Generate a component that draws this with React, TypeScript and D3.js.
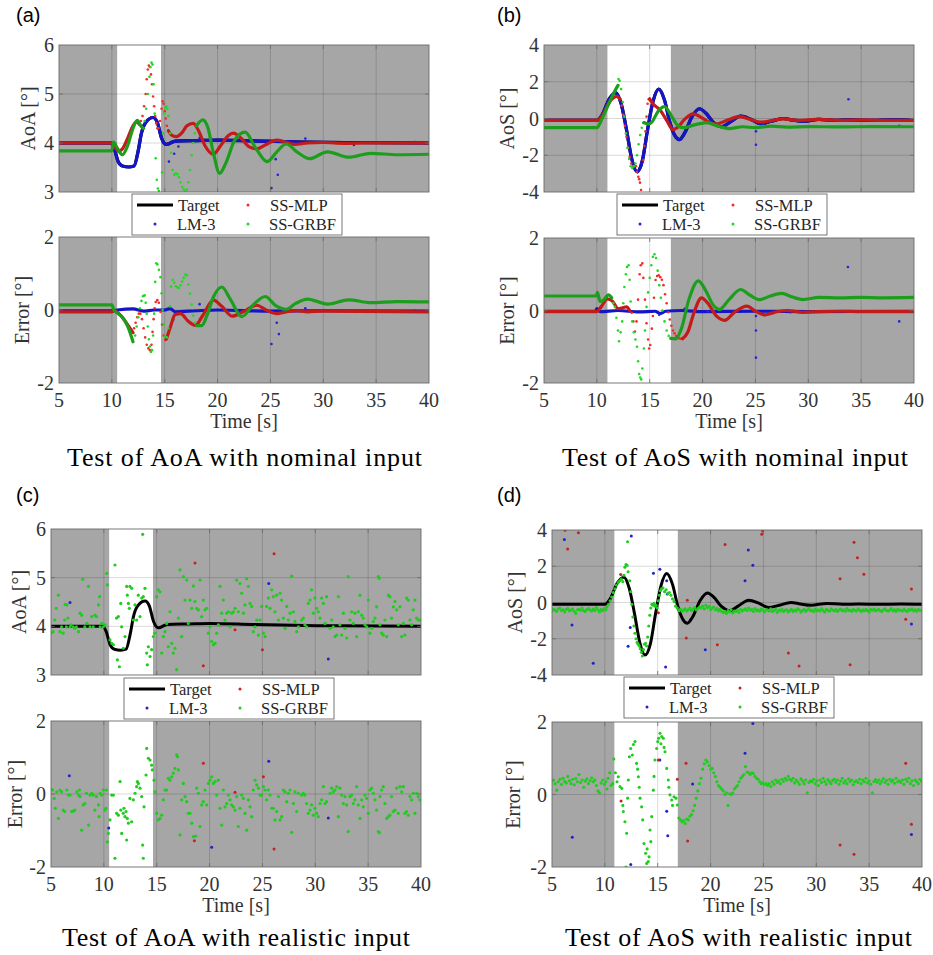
import React from "react";
import * as d3 from "d3";

type P = [number, number];

// ---------- axis / label data ----------
const TIME_TICKS = [5, 10, 15, 20, 25, 30, 35, 40];
const AOA_TICKS = [3, 4, 5, 6];
const AOS_TICKS = [-4, -2, 0, 2, 4];
const ERR_TICKS = [-2, 0, 2];
const LEGEND_LABELS = ["Target", "LM-3", "SS-MLP", "SS-GRBF"];
const CAPTIONS = [
  "Test of AoA with nominal input",
  "Test of AoS with nominal input",
  "Test of AoA with realistic input",
  "Test of AoS with realistic input",
];
const PANEL_TAGS = ["(a)", "(b)", "(c)", "(d)"];
const WIN_NOM_AOA: P = [10.5, 14.65];
const WIN_NOM_AOS: P = [11.0, 17.0];
const WIN_REAL_AOA: P = [10.5, 14.65];
const WIN_REAL_AOS: P = [10.9, 16.9];

// ---------- targets ----------
const AOA_TARGET: P[] = [[5,4.0],[9.9,4.0],[10.2,3.9],[10.6,3.62],[11.0,3.53],[11.6,3.51],[12.1,3.53],[12.5,3.85],[12.8,4.2],[13.2,4.42],[13.9,4.52],[14.3,4.42],[14.7,4.1],[15.15,3.97],[16.0,4.04],[18,4.05],[20,4.06],[24,4.04],[28,4.02],[32,4.01],[40,4.0]];
const AOS_TARGET: P[] = [[5,-0.1],[10,-0.1],[10.5,0.2],[11.2,1.1],[11.8,1.4],[12.3,0.8],[12.8,-0.6],[13.3,-2.2],[13.8,-2.9],[14.3,-2.3],[14.8,-0.6],[15.3,0.9],[15.85,1.6],[16.4,1.0],[16.9,-0.2],[17.4,-0.95],[17.8,-1.15],[18.3,-0.8],[19.0,0.1],[19.7,0.53],[20.3,0.3],[21.0,-0.2],[21.8,-0.45],[22.6,-0.2],[23.6,0.13],[24.6,-0.05],[25.5,-0.28],[26.5,-0.15],[27.6,0.0],[28.5,-0.08],[29.5,-0.15],[31,-0.05],[32.5,-0.1],[34,-0.08],[36,-0.1],[38,-0.08],[40,-0.1]];

// ---------- (a) nominal AoA ----------
const NA_LM3_DOTS: P[] = [[15.4,3.62],[15.9,3.78],[16.3,3.93],[18.3,4.1],[25.1,3.08],[25.5,3.67],[25.7,3.35],[28.3,4.09],[32.9,3.96],[38.7,4.02]];
const NA_MLP_LINE1: P[] = [[5,4.0],[10,4.0],[10.3,3.92],[10.6,3.83],[11.0,3.88],[11.5,4.1],[12.0,4.35],[12.35,4.43],[12.6,4.38]];
const NA_MLP_DOTS: P[] = [[12.75,4.45],[12.9,4.55],[13.05,4.75],[13.2,5.0],[13.3,5.3],[13.4,5.5],[13.5,5.58],[13.6,5.55],[13.7,5.4],[13.8,5.2],[13.9,4.95],[14.0,4.75],[14.1,4.55],[14.2,4.4],[14.3,4.3],[14.4,4.3],[14.55,4.45],[14.7,4.7],[14.8,4.85],[14.9,4.8],[15.0,4.65],[15.1,4.5],[15.2,4.35]];
const NA_MLP_LINE2: P[] = [[15.35,4.25],[15.6,4.17],[16.1,4.13],[16.6,4.2],[17.1,4.35],[17.7,4.4],[18.2,4.25],[18.8,3.95],[19.6,3.77],[20.3,3.95],[21.0,4.15],[21.5,4.2],[22.2,4.1],[23.0,3.92],[23.7,3.88],[24.5,3.96],[25.6,4.06],[26.4,4.02],[27.3,3.97],[28.5,4.0],[30,4.01],[32,3.99],[34,4.0],[40,4.0]];
const NA_GRBF_LINE1: P[] = [[5,3.84],[10,3.84],[10.15,4.02],[10.5,3.9],[11.0,3.76],[11.5,3.95],[12.0,4.3],[12.4,4.46],[12.8,4.33],[13.0,4.3]];
const NA_GRBF_DOTS: P[] = [[13.1,4.45],[13.25,4.7],[13.4,5.0],[13.55,5.35],[13.65,5.55],[13.75,5.64],[13.85,5.6],[13.95,5.2],[14.05,4.6],[14.15,3.69],[14.25,3.25],[14.35,3.07],[14.45,3.02],[14.75,3.4],[14.85,4.2],[14.95,4.6],[15.05,4.72],[15.15,4.75],[15.25,4.7],[15.35,4.55],[15.5,4.2],[15.6,3.8],[15.75,3.45],[15.9,3.35],[16.05,3.38],[16.2,3.36],[16.35,3.3],[16.5,3.2],[16.65,3.1],[16.8,3.05],[16.95,3.01],[17.1,3.05],[17.25,3.2],[17.4,3.45],[17.55,3.75],[17.7,4.0],[17.85,4.2]];
const NA_GRBF_LINE2: P[] = [[18.0,4.35],[18.6,4.47],[19.1,4.3],[19.6,3.8],[20.2,3.38],[20.8,3.6],[21.6,4.05],[22.6,4.22],[23.6,3.9],[24.7,3.62],[25.6,3.82],[26.5,3.98],[27.5,3.82],[28.7,3.68],[30.4,3.82],[32.4,3.71],[34.5,3.79],[37,3.76],[40,3.77]];
const NA_LM3_ERR_LINE: P[] = [[5,-0.02],[10,-0.02],[10.5,0.0],[12,0.03],[13,-0.03],[14,0.0],[15,0.0],[15.5,0.04],[16,-0.05],[18,-0.02],[20,0.0],[25,-0.03],[30,-0.02],[40,-0.03]];
const NA_LM3_ERR_DOTS: P[] = [[15.8,-0.27],[18.3,0.16],[25.1,-0.93],[25.6,-0.35],[25.8,-0.66],[28.3,0.05],[33.0,-0.05],[38.7,-0.02]];
const NA_MLP_ERR_LINE1: P[] = [[5,-0.05],[10,-0.05],[10.2,0.0],[10.6,-0.08],[11.2,-0.28],[11.6,-0.45],[12.0,-0.62]];
const NA_MLP_ERR_DOTS: P[] = [[12.1,-0.5],[12.25,-0.35],[12.4,-0.2],[12.55,-0.1],[12.7,-0.1],[12.85,-0.25],[13.0,-0.5],[13.15,-0.75],[13.3,-0.95],[13.45,-1.05],[13.6,-1.1],[13.75,-0.95],[13.85,-0.6],[13.95,-0.25],[14.05,0.05],[14.15,0.22],[14.3,0.27],[14.45,0.2],[14.6,-0.05],[14.75,-0.4],[14.9,-0.7],[15.05,-0.82]];
const NA_MLP_ERR_LINE2: P[] = [[15.15,-0.8],[15.5,-0.5],[16.0,-0.12],[16.5,-0.1],[17.2,-0.3],[17.9,-0.42],[18.6,-0.15],[19.6,0.27],[20.4,0.1],[21.4,-0.17],[22.4,-0.05],[23.7,0.13],[24.6,0.0],[25.6,-0.1],[26.5,-0.05],[27.5,-0.02],[28.5,-0.05],[30,-0.03],[40,-0.05]];
const NA_GRBF_ERR_LINE1: P[] = [[5,0.14],[10,0.14],[10.2,0.0],[10.6,-0.1],[11.0,-0.2],[11.5,-0.45],[12.0,-0.87]];
const NA_GRBF_ERR_DOTS: P[] = [[12.2,-0.7],[12.35,-0.45],[12.5,-0.2],[12.65,0.05],[12.8,0.25],[12.95,0.38],[13.1,0.4],[13.2,0.2],[13.3,-0.1],[13.4,-0.45],[13.5,-0.8],[13.6,-1.0],[13.7,-1.15],[13.8,-1.1],[13.9,-0.7],[14.0,-0.1],[14.1,0.77],[14.2,1.28],[14.3,1.25],[14.45,1.1],[14.6,0.9],[14.7,0.46],[14.8,0.0],[14.9,-0.4],[15.05,-0.72],[15.2,-0.75],[15.35,-0.5],[15.5,0.1],[15.6,0.64],[15.75,0.82],[15.9,0.75],[16.05,0.65],[16.2,0.62],[16.35,0.6],[16.5,0.68],[16.65,0.78],[16.8,0.88],[16.95,0.97],[17.1,0.95],[17.25,0.7],[17.4,0.45],[17.55,0.15],[17.7,-0.15],[17.85,-0.35]];
const NA_GRBF_ERR_LINE2: P[] = [[18.0,-0.43],[18.5,-0.43],[19.0,-0.15],[19.6,0.35],[20.4,0.63],[21.2,0.3],[22.3,-0.18],[23.4,0.15],[24.5,0.37],[25.5,0.12],[26.5,0.02],[27.4,0.18],[28.5,0.3],[30.4,0.16],[32.4,0.28],[34.5,0.2],[37,0.23],[40,0.22]];

// ---------- (b) nominal AoS ----------
const NS_LM3_DOTS: P[] = [[25.05,-0.7],[25.05,-1.43],[25.8,-0.3],[33.8,1.05],[38.6,-0.4]];
const NS_MLP_LINE1: P[] = [[5,-0.1],[10,-0.1],[10.5,0.15],[11.2,0.9],[11.9,1.2],[12.2,1.05]];
const NS_MLP_DOTS: P[] = [[12.35,0.7],[12.5,0.2],[12.65,-0.4],[12.8,-1.0],[12.95,-1.6],[13.1,-2.1],[13.25,-2.45],[13.4,-2.6],[13.55,-2.6],[13.7,-2.6],[13.8,-2.9],[13.92,-3.17],[14.0,-3.3],[14.08,-3.49],[14.18,-3.89],[14.4,-2.26],[14.5,-1.5],[14.6,-0.7],[14.7,0.1],[14.8,0.8],[14.9,1.05],[15.0,1.1]];
const NS_MLP_LINE2: P[] = [[15.0,1.05],[15.4,0.75],[16.0,0.45],[16.6,-0.1],[17.2,-0.6],[17.6,-0.5],[18.3,-0.05],[19.1,0.25],[19.9,0.05],[20.6,-0.2],[21.3,-0.3],[22.3,-0.1],[23.5,0.1],[24.5,-0.05],[25.5,-0.2],[26.5,-0.12],[27.6,-0.02],[29,-0.1],[31,-0.05],[33,-0.1],[35,-0.08],[37,-0.1],[40,-0.1]];
const NS_GRBF_LINE1: P[] = [[5,-0.5],[10,-0.5],[10.5,0.0],[11.2,0.9],[11.8,1.6],[12.0,1.8]];
const NS_GRBF_DOTS: P[] = [[12.05,2.15],[12.15,2.05],[12.3,1.6],[12.45,0.9],[12.6,0.1],[12.75,-0.8],[12.9,-1.6],[13.05,-2.2],[13.2,-2.6],[13.35,-2.7],[13.5,-2.6],[13.65,-2.45],[13.8,-2.0],[13.95,-1.4],[14.1,-0.9],[14.25,-0.5],[14.4,-0.25]];
const NS_GRBF_LINE2: P[] = [[14.45,-0.22],[14.9,-0.3],[15.2,-0.2],[15.8,0.4],[16.4,0.65],[17.0,0.2],[17.6,-0.35],[18.2,-0.5],[19.2,-0.35],[20.4,-0.22],[21.4,-0.4],[22.5,-0.55],[23.8,-0.45],[25,-0.5],[26.5,-0.42],[28,-0.47],[30,-0.44],[33,-0.46],[36,-0.44],[40,-0.45]];
const NS_LM3_ERR_LINE: P[] = [[5,-0.02],[9.9,-0.02],[10.0,0.05],[10.3,-0.03],[12,0.0],[14,-0.04],[15.5,-0.02],[16,-0.08],[16.5,-0.02],[18,0.0],[20,-0.03],[25,-0.02],[30,-0.03],[40,-0.02]];
const NS_LM3_ERR_DOTS: P[] = [[15.9,-0.12],[18.3,0.05],[20.5,-0.03],[25.05,-0.15],[25.05,-0.55],[25.05,-1.3],[25.8,-0.12],[28.3,-0.05],[33.75,1.2],[38.6,-0.3]];
const NS_MLP_ERR_LINE1: P[] = [[5,-0.03],[10,-0.03],[10.4,0.1],[11.0,0.32],[11.5,0.25],[12.0,0.05],[12.5,0.08],[12.8,0.1],[13.1,0.0]];
const NS_MLP_ERR_DOTS: P[] = [[13.3,-0.06],[13.45,-0.3],[13.6,-0.58],[13.75,-0.3],[13.9,0.3],[14.05,1.0],[14.15,1.25],[14.3,1.3],[14.4,0.9],[14.55,0.3],[14.7,-0.35],[14.85,-0.8],[14.95,-1.05],[15.05,-0.95],[15.2,-0.5],[15.3,-0.15],[15.4,0.35],[15.55,0.84],[15.7,0.95],[15.85,0.97],[16.0,0.92],[16.15,0.85],[16.3,0.7],[16.45,0.45],[16.6,0.2],[16.75,-0.05],[16.9,-0.25],[17.05,-0.42],[17.2,-0.55],[17.35,-0.63],[17.5,-0.7],[17.65,-0.74],[17.8,-0.77],[17.95,-0.78],[18.1,-0.78]];
const NS_MLP_ERR_LINE2: P[] = [[18.1,-0.78],[18.6,-0.6],[19.2,-0.05],[19.9,0.35],[20.5,0.2],[21.3,-0.15],[22.1,-0.27],[23.0,-0.05],[24.2,0.12],[25.0,-0.02],[25.9,-0.12],[26.8,-0.05],[28.0,0.0],[29.5,-0.05],[31,-0.03],[33,-0.02],[35,-0.03],[40,-0.03]];
const NS_GRBF_ERR_LINE1: P[] = [[5,0.4],[9.95,0.4],[10.05,0.5],[10.3,0.25],[10.6,0.28],[11.1,0.43],[11.4,0.35]];
const NS_GRBF_ERR_DOTS: P[] = [[11.55,0.2],[11.7,0.1],[11.85,-0.2],[12.0,-0.55],[12.1,-0.85],[12.25,-0.6],[12.4,-0.3],[12.5,0.2],[12.6,0.65],[12.75,1.0],[12.85,1.2],[13.0,1.25],[13.1,0.85],[13.2,0.25],[13.35,-0.3],[13.5,-0.6],[13.65,-0.8],[13.8,-1.0],[13.9,-1.4],[14.0,-1.75],[14.1,-1.85],[14.2,-1.9],[14.3,-1.6],[14.45,-1.05],[14.55,-0.55],[14.7,0.1],[14.85,0.5],[15.0,0.9],[15.15,1.25],[15.3,1.48],[15.45,1.55],[15.6,1.45],[15.75,1.1],[15.9,0.7],[16.05,0.35],[16.2,0.0],[16.4,-0.3],[16.6,-0.55],[16.8,-0.7],[17.0,-0.77]];
const NS_GRBF_ERR_LINE2: P[] = [[17.0,-0.77],[17.46,-0.78],[18.0,-0.5],[18.7,0.3],[19.6,0.82],[20.3,0.55],[21.0,0.15],[21.6,0.03],[22.5,0.3],[23.6,0.58],[24.5,0.42],[25.4,0.3],[26.4,0.4],[27.5,0.47],[28.5,0.37],[29.5,0.3],[31,0.36],[33,0.35],[35,0.36],[37,0.35],[40,0.36]];

// ---------- (c) realistic AoA ----------
const RA_GRBF_DOTS: P[] = [[5.0,3.86],[5.2,3.89],[5.35,4.13],[5.5,4.37],[5.7,4.64],[5.85,3.89],[6.0,3.99],[6.15,3.86],[6.3,4.13],[6.35,4.45],[6.45,3.99],[6.5,4.44],[6.6,4.17],[6.8,3.99],[6.9,4.03],[7.1,3.99],[7.25,3.96],[7.4,3.99],[7.6,3.89],[7.75,4.27],[7.9,4.23],[8.0,4.97],[8.2,3.99],[8.4,4.06],[8.55,4.82],[8.7,3.99],[8.85,4.2],[9.0,3.99],[9.15,4.23],[9.3,4.2],[9.5,4.44],[9.6,4.61],[9.65,3.99],[9.8,4.06],[9.95,3.99],[10.1,4.03],
[10.27,5.09],[10.33,4.85],[10.58,3.72],[10.74,3.65],[10.9,3.62],[11.05,5.26],[11.2,4.17],[11.28,3.31],[11.37,4.2],[11.47,3.17],[11.6,4.47],[11.68,3.99],[11.84,3.55],[12.0,3.79],[12.16,4.82],[12.22,4.64],[12.32,4.47],[12.41,4.37],[12.47,4.82],[12.63,4.78],[12.79,4.13],[12.95,4.44],[13.1,4.13],[13.26,4.64],[13.42,4.2],[13.58,4.58],[13.67,5.89],[13.73,4.61],[13.89,4.78],[14.05,3.45],[14.11,3.21],[14.21,3.58],[14.37,3.38],[14.52,3.52],
[14.68,3.79],[14.84,3.86],[15.0,4.61],[15.15,4.75],[15.31,4.71],[15.47,3.45],[15.63,3.79],[15.78,3.89],[15.94,4.06],[16.1,3.58],[16.26,4.3],[16.42,3.65],[16.57,3.45],[16.73,3.55],[16.89,3.11],[17.05,4.17],[17.2,5.16],[17.36,3.79],[17.52,5.02],[17.68,4.54],[17.84,4.95],[17.99,4.06],[18.15,4.54],[18.31,4.37],[18.47,4.83],[18.62,4.51],[18.78,4.37],[18.94,4.34],[19.1,4.95],[19.25,4.2],[19.41,4.54],[19.57,4.34],[19.73,4.37],[19.88,3.86],[20.04,3.99],[20.2,3.69],[20.36,3.62],[20.52,3.65],[20.67,3.86],[20.83,4.03],[20.99,4.82],[21.15,4.27],[21.3,4.54],[21.46,4.13],[21.62,4.27],[21.78,4.3],[21.93,3.99],[22.09,4.27],[22.25,4.3],[22.41,4.37],[22.56,4.95],[22.72,4.3],[22.88,4.88],[23.04,4.68],[23.2,4.27],[23.35,4.44],[23.51,4.98],[23.67,4.82],[23.83,4.47],[23.98,4.41],[24.14,3.89],[24.3,3.99],[24.46,4.13],[24.62,3.82],[24.77,4.13],[24.93,4.41],[25.09,3.86],[25.25,3.79],[25.4,4.41],[25.56,4.58],[25.72,4.37],[25.88,4.75],[26.03,4.61],[26.19,4.3],[26.35,4.64],[26.51,4.13],[26.67,4.68],[26.82,4.54],[26.98,4.17],[27.14,3.96],[27.3,4.41],[27.45,4.13],[27.61,4.27],[27.77,5.03],[27.93,4.3],[28.08,4.1],[28.24,3.89],[28.4,3.99],
[28.71,4.13],[28.87,4.17],[29.02,4.03],[29.18,3.99],[29.34,4.47],[29.5,4.54],[29.65,4.75],[29.81,4.27],[29.97,4.58],[30.13,4.37],[30.28,4.3],[30.44,4.17],[30.6,4.58],[30.76,4.47],[30.92,4.06],[31.07,4.61],[31.39,3.96],[31.55,4.13],[31.7,3.99],[31.86,3.79],[32.02,3.82],[32.18,4.61],[32.33,4.03],[32.49,3.82],[32.65,4.27],[32.81,3.96],[32.97,3.76],[33.12,5.02],[33.28,4.13],[33.44,4.3],[33.6,4.06],[33.75,4.27],[33.91,3.79],[34.07,4.3],[34.23,4.64],[34.39,4.23],[34.54,4.17],[34.7,4.03],[34.86,3.99],[35.02,4.54],[35.17,3.86],[35.33,3.96],[35.49,4.1],[35.65,4.17],[35.8,4.4],[35.96,5.02],[36.06,4.99],[36.12,4.03],[36.28,3.86],[36.43,3.82],[36.59,4.13],[36.75,3.79],[36.91,4.64],[37.06,4.61],[37.22,4.17],[37.38,4.4],[37.54,4.51],[37.7,4.34],[37.85,4.03],[38.01,4.4],[38.17,3.79],[38.33,4.06],[38.48,3.82],[38.64,4.58],[38.8,4.54],[38.96,4.13],[39.11,4.03],[39.27,4.34],[39.43,4.54],[39.59,4.17],[39.74,4.13],[39.9,4.13]];
const RA_MLP_DOTS: P[] = [[18.62,5.3],[19.41,3.19],[22.41,3.93],[25.0,3.52],[26.1,5.49]];
const RA_LM3_DOTS: P[] = [[6.8,4.49],[25.6,4.88],[31.23,3.33]];
const RA_GRBF_ERR_DOTS: P[] = [[5.0,0.13],[5.15,0.11],[5.3,-0.12],[5.4,-0.39],[5.55,0.06],[5.7,-0.67],[5.85,0.11],[6.0,0.06],[6.15,-0.44],[6.3,-0.48],[6.5,0.11],[6.65,-0.03],[6.8,-0.03],[6.95,-0.48],[7.1,-0.47],[7.25,-0.44],[7.45,0.06],[7.6,-0.03],[7.7,0.11],[7.75,-0.07],[7.9,-0.99],[8.05,-0.3],[8.2,-0.26],[8.35,0.02],[8.55,-0.85],[8.7,-0.03],[8.85,0.02],[9.0,-0.03],[9.15,-0.44],[9.3,-0.07],[9.5,-0.3],[9.55,-0.62],[9.65,0.02],[9.8,-0.03],[9.95,0.11],[10.1,-0.44],[10.2,-0.39],[10.25,0.11],
[10.33,-1.31],[10.42,-1.08],[10.58,-0.71],[10.74,-0.03],[10.9,-0.03],[11.05,-1.76],[11.21,-0.53],[11.37,-0.58],[11.53,0.34],[11.6,-0.44],[11.69,-1.08],[11.84,-0.53],[11.9,-0.39],[12.0,-0.62],[12.1,-0.48],[12.16,-1.26],[12.22,-0.67],[12.32,-0.8],[12.47,-0.12],[12.63,-0.76],[12.79,-0.16],[12.95,0.02],[13.1,0.2],[13.17,0.34],[13.26,0.29],[13.42,0.16],[13.58,-0.07],[13.67,-1.4],[13.73,-1.76],[13.8,-0.35],[13.99,0.52],[14.05,1.25],[14.21,0.98],[14.37,0.93],[14.52,0.79],[14.59,0.66],
[14.75,0.38],[14.84,0.06],[15.0,-0.53],[15.15,-0.71],[15.31,-0.67],[15.47,-0.58],[15.63,-0.16],[15.78,0.11],[15.94,0.11],[16.1,0.43],[16.26,0.38],[16.42,0.47],[16.57,0.57],[16.73,0.7],[16.89,1.07],[16.98,1.02],[17.05,0.66],[17.2,-1.12],[17.36,-0.16],[17.52,0.29],[17.68,-0.07],[17.84,-0.21],[17.99,-0.53],[18.15,-0.53],[18.31,-0.8],[18.47,-1.17],[18.7,-1.15],[18.78,0.16],[18.94,0.02],[19.1,-0.89],[19.25,-0.3],[19.41,-0.21],[19.57,0.11],[19.73,-0.3],[19.88,0.29],[20.04,0.38],[20.2,0.47],[20.36,0.29],[20.52,0.34],[20.67,-0.03],[20.83,0.38],[20.99,-0.39],[21.15,-0.85],[21.3,0.11],[21.46,-0.35],[21.62,-0.26],[21.78,-0.03],[21.93,-0.16],[22.09,-0.3],[22.25,-0.35],[22.41,-0.44],[22.56,-0.07],[22.72,-0.89],[22.88,-0.39],[23.04,-0.03],[23.2,-0.12],[23.35,-0.53],[23.51,-0.99],[23.67,-0.16],[23.83,-0.35],[23.98,-0.62],[24.14,0.11],[24.3,0.38],[24.46,0.25],[24.62,0.16],[24.77,-0.03],[24.93,-0.03],[25.09,0.2],[25.25,0.11],[25.4,-0.16],[25.56,0.11],[25.72,-0.03],[25.88,-0.39],[26.03,-0.39],[26.19,-0.71],[26.35,-0.48],[26.51,-0.07],[26.67,-0.71],[26.82,-0.62],[26.98,0.11],[27.14,0.06],[27.3,-0.21],[27.45,0.02],[27.61,0.11],[27.77,-1.05],[27.93,-0.26],[28.08,0.06],[28.24,-0.48],[28.4,0.02],
[28.71,-0.03],[28.87,0.02],[29.02,-0.03],[29.18,-0.26],[29.34,-0.53],[29.5,-0.44],[29.65,-0.3],[29.81,-0.58],[29.97,-0.39],[30.13,-0.53],[30.28,-0.62],[30.44,-0.26],[30.6,-0.16],[30.76,0.2],[30.92,-0.26],[31.07,-0.21],[31.39,0.02],[31.55,0.16],[31.7,0.06],[31.86,0.11],[32.02,0.2],[32.18,-0.62],[32.33,0.16],[32.49,-0.03],[32.65,-0.26],[32.81,-0.07],[32.97,-0.3],[33.12,-1.03],[33.28,-0.07],[33.44,-0.03],[33.6,-0.26],[33.75,-0.16],[33.91,0.2],[34.07,-0.3],[34.23,-0.67],[34.39,-0.16],[34.54,-0.35],[34.7,-0.03],[34.86,-0.12],[35.02,-0.53],[35.17,0.11],[35.33,0.16],[35.49,0.02],[35.65,-0.16],[35.8,-0.44],[35.96,-1.03],[36.06,-1.06],[36.12,-0.07],[36.28,0.11],[36.43,0.2],[36.59,-0.26],[36.75,-0.67],[36.91,-0.62],[37.06,-0.58],[37.22,-0.07],[37.38,-0.48],[37.54,-0.44],[37.7,0.16],[37.85,-0.53],[38.01,0.2],[38.17,0.06],[38.33,0.2],[38.48,-0.53],[38.64,-0.48],[38.8,-0.58],[38.96,-0.07],[39.11,-0.16],[39.27,0.02],[39.43,-0.53],[39.59,0.02],[39.74,-0.07],[39.9,-0.16]];
const RA_MLP_ERR_DOTS: P[] = [[18.56,-1.28],[19.41,0.84],[22.41,0.05],[25.09,0.47],[26.1,-1.51]];
const RA_LM3_ERR_DOTS: P[] = [[6.73,0.5],[10.46,-0.93],[20.2,-1.46],[25.6,0.9],[31.23,-0.66]];

// ---------- (d) realistic AoS ----------
const RS_BAND_START_A = 5.0;
const RS_BAND_START_B = 17.0;
const RS_BAND_STEP = 0.15;
const RS_GRBF_BAND_A = [-0.45,-0.38,-0.42,-0.5,-0.35,-0.3,-0.44,-0.4,-0.52,-0.38,-0.33,-0.46,-0.41,-0.36,-0.48,-0.6,-0.4,-0.37,-0.43,-0.3,-0.45,-0.5,-0.39,-0.34,-0.42,-0.47,-0.36,-0.44,-0.28,-0.4,-0.52,-0.38,-0.45,-0.33,-0.4];
const RS_GRBF_TRANS: P[] = [[10.2,-0.25],[10.35,-0.1],[10.5,0.1],[10.65,0.3],[10.8,0.55],[10.95,0.75],[11.1,0.95],[11.25,1.1],[11.4,1.2],[11.55,1.3],[11.7,1.15],[11.8,1.5],[11.9,1.95],[12.0,2.1],[12.1,2.05],[12.15,3.35],[12.2,1.7],[12.35,1.2],[12.45,0.6],[12.55,-0.1],[12.65,-0.8],[12.75,-1.3],[12.85,-1.7],[12.95,-2.0],[13.05,-2.2],[13.15,-2.3],[13.25,-2.4],[13.35,-2.55],[13.45,-2.75],[13.55,-2.95],[13.65,-2.6],[13.75,-2.3],[13.85,-2.25],[13.95,-2.4],[14.05,-1.9],[14.15,-1.3],[14.25,-0.7],[14.35,-0.3],[14.45,-0.1],[14.55,-0.15],[14.65,-0.05],[14.75,-0.2],[14.85,-0.15],[14.95,-0.3],[15.05,0.1],[15.15,0.4],[15.25,0.65],[15.35,0.75],[15.5,0.8],[15.65,0.6],[15.8,0.7],[15.95,0.5],[16.1,0.55],[16.25,0.4],[16.4,0.2],[16.55,0.05],[16.7,-0.2],[16.85,-0.3]];
const RS_GRBF_BAND_B = [
  -0.45,-0.38,-0.5,-0.42,-0.35,-0.47,-0.4,-0.3,-0.44,-0.36,-0.28,-0.41,-0.33,-0.25,
  -0.3,-0.2,-0.35,-0.15,-0.28,-0.22,-0.38,-0.3,-0.25,-0.4,-0.33,-0.45,-0.38,-0.5,
  -0.55,-0.48,-0.6,-0.45,-0.52,-0.4,-0.58,-0.47,-0.5,-0.42,-0.55,-0.38,-0.46,-0.4,
  -0.35,-0.44,-0.3,-0.42,-0.38,-0.5,-0.33,-0.45,-0.4,-0.48,-0.36,-0.43,-0.52,-0.39,
  -0.42,-0.47,-0.35,-0.5,-0.44,-0.38,-0.55,-0.41,-0.46,-0.36,-0.49,-0.43,-0.4,-0.52,
  -0.45,-0.38,-0.5,-0.42,-0.47,-0.35,-0.4,-0.53,-0.44,-0.37,-0.48,-0.41,-0.3,-0.45,
  -0.42,-0.5,-0.36,-0.45,-0.4,-0.47,-0.33,-0.44,-0.52,-0.38,-0.43,-0.48,-0.35,-0.41,
  -0.46,-0.39,-0.5,-0.42,-0.36,-0.45,-0.4,-0.48,-0.33,-0.44,-0.41,-0.5,-0.38,-0.43,
  -0.47,-0.35,-0.42,-0.49,-0.4,-0.45,-0.37,-0.44,-0.52,-0.39,-0.43,-0.36,-0.46,-0.41,
  -0.38,-0.45,-0.5,-0.4,-0.35,-0.44,-0.47,-0.42,-0.33,-0.46,-0.4,-0.49,-0.37,-0.43,
  -0.41,-0.47,-0.36,-0.44,-0.5,-0.39,-0.42,-0.35,-0.46,-0.4,-0.48,-0.38,-0.43,-0.41];
const RS_MLP_DOTS: P[] = [[6.23,3.98],[6.48,2.95],[7.5,3.85],[11.5,1.55],[15.06,-0.56],[17.0,-0.42],[17.8,0.13],[17.7,-1.96],[20.64,-2.33],[21.37,3.2],[24.84,3.76],[24.93,3.95],[27.36,-2.78],[28.37,-3.51],[32.25,1.31],[33.2,-3.44],[33.57,3.33],[33.89,2.47],[34.5,1.56],[38.46,-0.93],[39.0,0.75]];
const RS_LM3_DOTS: P[] = [[6.17,3.47],[6.89,-1.24],[8.9,-3.35],[12.2,-2.42],[12.4,-1.38],[12.5,3.67],[14.6,1.62],[15.2,1.84],[15.85,1.2],[15.9,0.47],[15.75,-3.56],[19.5,-2.6],[23.26,1.2],[23.57,2.89],[24.0,2.05],[39.0,-1.18]];
const RS_GRBF_ERR_BAND_A = [0.38,0.4,0.3,0.12,0.35,0.42,0.28,0.45,0.36,0.32,0.5,0.38,0.3,0.42,0.27,0.44,0.35,0.55,0.33,0.4,0.2,0.37,0.43,0.3,0.38,0.46,0.35,0.4,0.25,0.1,0.05,0.32,0.4,0.28,0.35];
const RS_GRBF_ERR_TRANS: P[] = [[10.2,0.15],[10.3,0.45],[10.45,0.6],[10.6,0.25],[10.75,0.3],[10.85,0.98],[11.0,0.6],[11.15,0.35],[11.27,0.49],[11.43,0.22],[11.59,0.17],[11.7,-0.3],[11.75,-0.47],[11.9,-0.75],[12.0,-2.0],[12.06,-1.07],[12.16,-0.1],[12.22,0.4],[12.32,1.04],[12.44,1.27],[12.6,1.09],[12.7,1.38],[12.85,1.46],[13.0,0.86],[13.1,0.7],[13.17,0.49],[13.25,0.2],[13.33,-0.1],[13.48,-0.34],[13.58,-0.7],[13.7,-1.35],[13.86,-1.62],[13.96,-1.9],[14.0,-1.5],[14.1,-1.85],[14.18,-1.72],[14.27,-0.98],[14.35,-1.3],[14.43,-0.61],[14.59,0.12],[14.65,0.5],[14.74,0.95],[14.9,1.27],[15.0,1.46],[15.09,1.55],[15.22,1.69],[15.3,1.4],[15.38,1.6],[15.53,1.55],[15.6,1.3],[15.69,1.18],[15.85,0.72],[16.0,0.4],[16.05,0.2],[16.16,-0.01],[16.32,-0.15],[16.4,-0.3],[16.54,-0.06],[16.73,-0.1],[16.86,-0.29]];
const RS_GRBF_ERR_BAND_B = [
  -0.65,-0.7,-0.75,-0.72,-0.8,-0.68,-0.7,-0.6,-0.55,-0.45,-0.3,-0.1,0.1,0.3,
  0.45,0.7,0.85,0.95,0.9,0.8,0.7,0.72,0.6,0.5,0.35,0.25,0.2,0.15,
  0.1,0.0,0.05,-0.3,0.02,0.0,0.05,0.15,0.2,0.25,0.35,0.45,0.5,0.55,
  0.77,0.62,0.6,0.55,0.6,0.58,0.5,0.45,0.42,0.35,0.3,0.32,0.28,0.3,
  0.25,0.3,0.22,0.35,0.28,0.4,0.33,0.38,0.3,0.42,0.36,0.45,0.4,0.5,
  0.42,0.38,0.45,0.32,0.4,0.35,0.28,0.43,0.37,0.3,0.4,0.05,0.33,0.38,
  0.35,0.42,0.3,0.38,0.25,0.4,0.33,0.45,0.36,0.28,0.41,0.35,0.3,0.39,
  0.42,0.34,0.4,0.28,0.37,0.45,0.32,0.38,0.3,0.43,0.36,0.4,0.27,0.35,
  0.38,0.33,0.42,0.3,0.4,0.35,0.45,0.32,0.38,0.28,0.05,0.36,0.41,0.34,
  0.4,0.3,0.37,0.44,0.33,0.39,0.28,0.42,0.36,0.4,0.31,0.45,0.35,0.38,
  0.33,0.4,0.28,0.42,0.36,0.45,0.3,0.38,0.25,0.4,0.35,0.3,0.42,0.37];
const RS_MLP_ERR_DOTS: P[] = [[11.53,-0.18],[15.06,0.95],[16.86,0.42],[17.68,0.86],[17.83,-1.28],[32.25,-1.39],[33.57,-1.65],[38.46,0.86],[39.0,-0.82]];
const RS_LM3_ERR_DOTS: P[] = [[6.92,-1.18],[12.45,-1.93],[15.2,0.95],[15.85,-0.46],[15.95,-1.14],[18.3,0.29],[23.26,1.14],[24.0,1.96],[39.0,-1.1]];

// ---------- styles ----------
const GRAY = "#a6a6a6";
const GRID = "rgba(0,0,0,0.15)";
const AXIS = "#6a6a6a";
const TXT = "#333333";
const SERIF = "'Liberation Serif', 'Times New Roman', serif";
const SANS = "'Liberation Sans', Arial, sans-serif";
const C_TARGET = "#000000";
const C_LM3_LINE = "#1515c8";
const C_LM3_DOT = "#2424d8";
const C_MLP_LINE = "#c41a1a";
const C_MLP_DOT = "#f02c2c";
const C_GRBF_LINE = "#1c9e1c";
const C_GRBF_DOT = "#22d822";
const C_R_GRBF = "#1fcc1f";
const C_R_MLP = "#c82020";
const C_R_LM3 = "#2222c8";

function grid(start: number, step: number, values: number[]): P[] {
  return values.map((v, i) => [start + i * step, v] as P);
}

interface Layer { kind: "line" | "dots"; data: P[]; color: string; size: number; }
const L = (data: P[], color: string, size = 3.2): Layer => ({ kind: "line", data, color, size });
const D = (data: P[], color: string, size = 1.3): Layer => ({ kind: "dots", data, color, size });

interface PlotProps {
  id: string; left: number; top: number; width: number; height: number;
  yDomain: [number, number]; yTicks: number[]; band: P; yLabel: string;
  yLabelOffset: number; showX: boolean; layers: Layer[];
}

function Plot(p: PlotProps) {
  const x = d3.scaleLinear().domain([TIME_TICKS[0], TIME_TICKS[TIME_TICKS.length - 1]]).range([p.left, p.left + p.width]);
  const y = d3.scaleLinear().domain(p.yDomain).range([p.top + p.height, p.top]);
  const line = d3.line<P>().x(d => x(d[0])).y(d => y(d[1])).curve(d3.curveMonotoneX);
  const bottom = p.top + p.height;
  const right = p.left + p.width;
  const tk = 4;
  return (
    <g>
      <defs>
        <clipPath id={p.id}><rect x={p.left} y={p.top} width={p.width} height={p.height} /></clipPath>
      </defs>
      <rect x={p.left} y={p.top} width={p.width} height={p.height} fill={GRAY} />
      <rect x={x(p.band[0])} y={p.top} width={x(p.band[1]) - x(p.band[0])} height={p.height} fill="#ffffff" />
      {TIME_TICKS.slice(1, -1).map(t => (
        <line key={"gx" + t} x1={x(t)} x2={x(t)} y1={p.top} y2={bottom} stroke={GRID} strokeWidth={1} />
      ))}
      {p.yTicks.slice(1, -1).map(v => (
        <line key={"gy" + v} x1={p.left} x2={right} y1={y(v)} y2={y(v)} stroke={GRID} strokeWidth={1} />
      ))}
      <g clipPath={`url(#${p.id})`}>
        {p.layers.map((l, i) =>
          l.kind === "line" ? (
            <path key={i} d={line(l.data) || ""} fill="none" stroke={l.color} strokeWidth={l.size} strokeLinejoin="round" strokeLinecap="round" />
          ) : (
            <g key={i} fill={l.color}>
              {l.data.map((d, j) => <circle key={j} cx={x(d[0])} cy={y(d[1])} r={l.size} />)}
            </g>
          )
        )}
      </g>
      <rect x={p.left} y={p.top} width={p.width} height={p.height} fill="none" stroke={AXIS} strokeWidth={0.9} />
      {TIME_TICKS.slice(1, -1).map(t => (
        <g key={"tx" + t} stroke={AXIS} strokeWidth={0.8}>
          <line x1={x(t)} x2={x(t)} y1={bottom} y2={bottom - tk} />
          <line x1={x(t)} x2={x(t)} y1={p.top} y2={p.top + tk} />
        </g>
      ))}
      {p.yTicks.slice(1, -1).map(v => (
        <g key={"ty" + v} stroke={AXIS} strokeWidth={0.8}>
          <line x1={p.left} x2={p.left + tk} y1={y(v)} y2={y(v)} />
          <line x1={right} x2={right - tk} y1={y(v)} y2={y(v)} />
        </g>
      ))}
      {p.yTicks.map(v => (
        <text key={"ly" + v} x={p.left - 5} y={y(v)} dy="0.35em" textAnchor="end" fontFamily={SERIF} fontSize={20} fill={TXT}>{String(v)}</text>
      ))}
      <text transform={`translate(${p.left - p.yLabelOffset},${p.top + p.height / 2}) rotate(-90)`} textAnchor="middle" dominantBaseline="central" fontFamily={SERIF} fontSize={20} fill={TXT}>{p.yLabel}</text>
      {p.showX && TIME_TICKS.map(t => (
        <text key={"lx" + t} x={x(t)} y={bottom + 24} textAnchor="middle" fontFamily={SERIF} fontSize={20} fill={TXT}>{String(t)}</text>
      ))}
      {p.showX && (
        <text x={p.left + p.width / 2} y={bottom + 45} textAnchor="middle" fontFamily={SERIF} fontSize={20} fill={TXT}>Time [s]</text>
      )}
    </g>
  );
}

function Legend({ x, y, dotColors }: { x: number; y: number; dotColors: string[] }) {
  const r1 = y + 11, r2 = y + 30;
  return (
    <g fontFamily={SERIF} fontSize={16.5} fill="#262626">
      <rect x={x} y={y} width={210} height={41} fill="#ffffff" stroke="#555" strokeWidth={0.8} />
      <line x1={x + 5} x2={x + 41} y1={r1} y2={r1} stroke={C_TARGET} strokeWidth={3} />
      <text x={x + 46} y={r1} dy="0.35em">{LEGEND_LABELS[0]}</text>
      <circle cx={x + 23} cy={r2} r={1.5} fill={dotColors[0]} />
      <text x={x + 45} y={r2} dy="0.35em">{LEGEND_LABELS[1]}</text>
      <circle cx={x + 116} cy={r1} r={1.5} fill={dotColors[1]} />
      <text x={x + 138} y={r1} dy="0.35em">{LEGEND_LABELS[2]}</text>
      <circle cx={x + 116} cy={r2} r={1.5} fill={dotColors[2]} />
      <text x={x + 137} y={r2} dy="0.35em">{LEGEND_LABELS[3]}</text>
    </g>
  );
}

export default function App() {
  const aTop: Layer[] = [
    L(AOA_TARGET, C_TARGET), L(AOA_TARGET, C_LM3_LINE), D(NA_LM3_DOTS, C_LM3_DOT),
    L(NA_MLP_LINE1, C_MLP_LINE), D(NA_MLP_DOTS, C_MLP_DOT), L(NA_MLP_LINE2, C_MLP_LINE),
    L(NA_GRBF_LINE1, C_GRBF_LINE), D(NA_GRBF_DOTS, C_GRBF_DOT), L(NA_GRBF_LINE2, C_GRBF_LINE),
  ];
  const aBot: Layer[] = [
    L(NA_LM3_ERR_LINE, C_LM3_LINE), D(NA_LM3_ERR_DOTS, C_LM3_DOT),
    L(NA_MLP_ERR_LINE1, C_MLP_LINE), D(NA_MLP_ERR_DOTS, C_MLP_DOT), L(NA_MLP_ERR_LINE2, C_MLP_LINE),
    L(NA_GRBF_ERR_LINE1, C_GRBF_LINE), D(NA_GRBF_ERR_DOTS, C_GRBF_DOT), L(NA_GRBF_ERR_LINE2, C_GRBF_LINE),
  ];
  const bTop: Layer[] = [
    L(AOS_TARGET, C_TARGET), L(AOS_TARGET, C_LM3_LINE), D(NS_LM3_DOTS, C_LM3_DOT),
    L(NS_MLP_LINE1, C_MLP_LINE), D(NS_MLP_DOTS, C_MLP_DOT), L(NS_MLP_LINE2, C_MLP_LINE),
    L(NS_GRBF_LINE1, C_GRBF_LINE), D(NS_GRBF_DOTS, C_GRBF_DOT), L(NS_GRBF_LINE2, C_GRBF_LINE),
  ];
  const bBot: Layer[] = [
    L(NS_LM3_ERR_LINE, C_LM3_LINE), D(NS_LM3_ERR_DOTS, C_LM3_DOT),
    L(NS_MLP_ERR_LINE1, C_MLP_LINE), D(NS_MLP_ERR_DOTS, C_MLP_DOT), L(NS_MLP_ERR_LINE2, C_MLP_LINE),
    L(NS_GRBF_ERR_LINE1, C_GRBF_LINE), D(NS_GRBF_ERR_DOTS, C_GRBF_DOT), L(NS_GRBF_ERR_LINE2, C_GRBF_LINE),
  ];
  const cTop: Layer[] = [
    L(AOA_TARGET, C_TARGET, 3), D(RA_LM3_DOTS, C_R_LM3, 1.5), D(RA_MLP_DOTS, C_R_MLP, 1.5), D(RA_GRBF_DOTS, C_R_GRBF, 1.6),
  ];
  const cBot: Layer[] = [
    D(RA_LM3_ERR_DOTS, C_R_LM3, 1.5), D(RA_MLP_ERR_DOTS, C_R_MLP, 1.5), D(RA_GRBF_ERR_DOTS, C_R_GRBF, 1.6),
  ];
  const dTop: Layer[] = [
    L(AOS_TARGET, C_TARGET, 3), D(RS_LM3_DOTS, C_R_LM3, 1.5), D(RS_MLP_DOTS, C_R_MLP, 1.5),
    D(grid(RS_BAND_START_A, RS_BAND_STEP, RS_GRBF_BAND_A), C_R_GRBF, 1.55),
    D(RS_GRBF_TRANS, C_R_GRBF, 1.55),
    D(grid(RS_BAND_START_B, RS_BAND_STEP, RS_GRBF_BAND_B), C_R_GRBF, 1.55),
  ];
  const dBot: Layer[] = [
    D(RS_LM3_ERR_DOTS, C_R_LM3, 1.5), D(RS_MLP_ERR_DOTS, C_R_MLP, 1.5),
    D(grid(RS_BAND_START_A, RS_BAND_STEP, RS_GRBF_ERR_BAND_A), C_R_GRBF, 1.55),
    D(RS_GRBF_ERR_TRANS, C_R_GRBF, 1.55),
    D(grid(RS_BAND_START_B, RS_BAND_STEP, RS_GRBF_ERR_BAND_B), C_R_GRBF, 1.55),
  ];

  return (
    <svg width={933} height={955} viewBox="0 0 933 955" style={{ position: "absolute", left: 0, top: 0, background: "#fff" }}>
      <rect x={0} y={0} width={933} height={955} fill="#fff" />
      {/* (a) */}
      <Plot id="ca1" left={59} top={45} width={370} height={147} yDomain={[3, 6]} yTicks={AOA_TICKS} band={WIN_NOM_AOA} yLabel="AoA [°]" yLabelOffset={31} showX={false} layers={aTop} />
      <Plot id="ca2" left={59} top={237} width={370} height={146} yDomain={[-2, 2]} yTicks={ERR_TICKS} band={WIN_NOM_AOA} yLabel="Error [°]" yLabelOffset={37} showX={true} layers={aBot} />
      <Legend x={132} y={194} dotColors={[C_LM3_DOT, C_MLP_DOT, C_GRBF_DOT]} />
      {/* (b) */}
      <Plot id="cb1" left={544} top={45} width={370} height={147} yDomain={[-4, 4]} yTicks={AOS_TICKS} band={WIN_NOM_AOS} yLabel="AoS [°]" yLabelOffset={37} showX={false} layers={bTop} />
      <Plot id="cb2" left={544} top={238} width={370} height={145} yDomain={[-2, 2]} yTicks={ERR_TICKS} band={WIN_NOM_AOS} yLabel="Error [°]" yLabelOffset={37} showX={true} layers={bBot} />
      <Legend x={617} y={194} dotColors={[C_LM3_DOT, C_MLP_DOT, C_GRBF_DOT]} />
      {/* (c) */}
      <Plot id="cc1" left={51} top={529} width={370} height={146} yDomain={[3, 6]} yTicks={AOA_TICKS} band={WIN_REAL_AOA} yLabel="AoA [°]" yLabelOffset={32} showX={false} layers={cTop} />
      <Plot id="cc2" left={51} top={721} width={370} height={146} yDomain={[-2, 2]} yTicks={ERR_TICKS} band={WIN_REAL_AOA} yLabel="Error [°]" yLabelOffset={36} showX={true} layers={cBot} />
      <Legend x={124} y={678} dotColors={[C_R_LM3, C_R_MLP, C_R_GRBF]} />
      {/* (d) */}
      <Plot id="cd1" left={552} top={530} width={370} height={145} yDomain={[-4, 4]} yTicks={AOS_TICKS} band={WIN_REAL_AOS} yLabel="AoS [°]" yLabelOffset={37} showX={false} layers={dTop} />
      <Plot id="cd2" left={552} top={722} width={370} height={145} yDomain={[-2, 2]} yTicks={ERR_TICKS} band={WIN_REAL_AOS} yLabel="Error [°]" yLabelOffset={39} showX={true} layers={dBot} />
      <Legend x={624} y={677} dotColors={[C_R_LM3, C_R_MLP, C_R_GRBF]} />

      {/* panel tags */}
      <text x={16} y={22} fontFamily={SANS} fontSize={20} fill="#000">{PANEL_TAGS[0]}</text>
      <text x={497} y={22} fontFamily={SANS} fontSize={20} fill="#000">{PANEL_TAGS[1]}</text>
      <text x={16} y={502} fontFamily={SANS} fontSize={20} fill="#000">{PANEL_TAGS[2]}</text>
      <text x={497} y={502} fontFamily={SANS} fontSize={20} fill="#000">{PANEL_TAGS[3]}</text>

      {/* captions */}
      <text x={244.5} y={466} textAnchor="middle" fontFamily={SERIF} fontSize={26} textLength={355} lengthAdjust="spacing" fill="#000">{CAPTIONS[0]}</text>
      <text x={735} y={466} textAnchor="middle" fontFamily={SERIF} fontSize={26} textLength={346} lengthAdjust="spacing" fill="#000">{CAPTIONS[1]}</text>
      <text x={236} y={946} textAnchor="middle" fontFamily={SERIF} fontSize={26} textLength={348} lengthAdjust="spacing" fill="#000">{CAPTIONS[2]}</text>
      <text x={738.5} y={946} textAnchor="middle" fontFamily={SERIF} fontSize={26} textLength={347} lengthAdjust="spacing" fill="#000">{CAPTIONS[3]}</text>
    </svg>
  );
}
